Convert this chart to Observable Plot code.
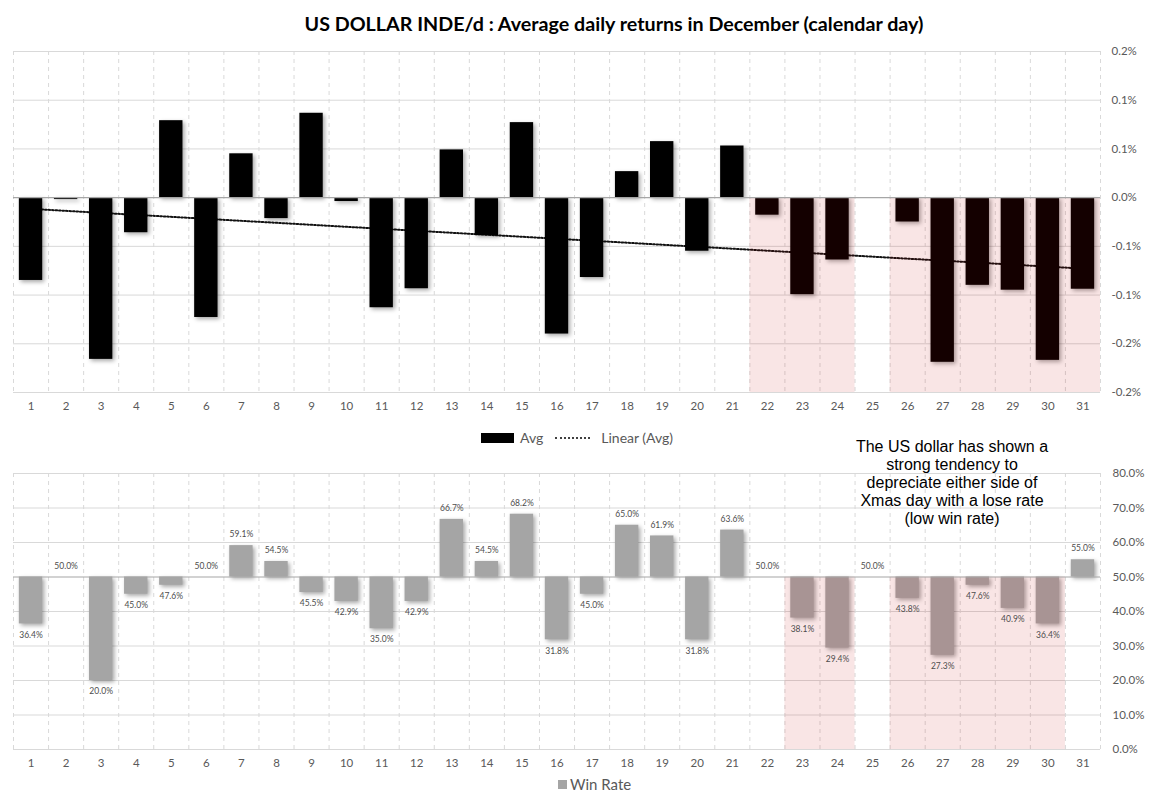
<!DOCTYPE html>
<html>
<head>
<meta charset="utf-8">
<script src="https://cdn.jsdelivr.net/npm/d3@7"></script>
<script src="https://cdn.jsdelivr.net/npm/@observablehq/plot@0.6"></script>
<style>
  body { margin: 0; background: #fff; }
  #wrap { position: relative; width: 1151px; height: 805px; overflow: hidden; font-family: Lato, "Open Sans", sans-serif; }
  #title { position: absolute; left: 0; top: 12px; width: 1228px; text-align: center; font: bold 19.7px Lato, sans-serif; color: #000; white-space: nowrap; }
  .chart { position: absolute; left: 0; }
  .legend { position: absolute; font: 14px Lato, sans-serif; color: #595959; display: flex; align-items: center; white-space: nowrap; }
  .sw { display: inline-block; }
  #note { position: absolute; left: 842px; top: 438px; width: 220px; text-align: center; font: 16px "Liberation Sans", Arial, sans-serif; line-height: 18px; color: #000; }
</style>
</head>
<body>
<div id="wrap">
  <div id="title"></div>
  <div id="top" class="chart" style="top:40px"></div>
  <div id="leg1" class="legend" style="left:481px; top:429px;"></div>
  <div id="bottom" class="chart" style="top:455px"></div>
  <div id="leg2" class="legend" style="left:558px; top:775px; font-size:15px;"></div>
  <div id="note"></div>
</div>
<script>
// ---------- data ----------
const titleText = "US DOLLAR INDE/d : Average daily returns in December (calendar day)";
const days = [1,2,3,4,5,6,7,8,9,10,11,12,13,14,15,16,17,18,19,20,21,22,23,24,25,26,27,28,29,30,31];
// average daily return, in percent
const avgReturn = [-0.085,-0.002,-0.166,-0.036,0.079,-0.123,0.045,-0.0215,0.0866,-0.004,
                   -0.113,-0.0935,0.049,-0.039,0.077,-0.140,-0.082,0.0267,0.0575,-0.055,
                   0.053,-0.018,-0.0996,-0.064,0,-0.025,-0.169,-0.090,-0.095,-0.167,-0.094];
// win rate, in percent
const winRate = [36.4,50.0,20.0,45.0,47.6,50.0,59.1,54.5,45.5,42.9,
                 35.0,42.9,66.7,54.5,68.2,31.8,45.0,65.0,61.9,31.8,
                 63.6,50.0,38.1,29.4,50.0,43.8,27.3,47.6,40.9,36.4,55.0];
const winBaseline = 50;
const avgTicks = [0.15,0.10,0.05,0,-0.05,-0.10,-0.15,-0.20];
const avgTickLabels = ["0.2%","0.1%","0.1%","0.0%","-0.1%","-0.1%","-0.2%","-0.2%"];
const winTicks = [0,10,20,30,40,50,60,70,80];
const winTickLabels = ["0.0%","10.0%","20.0%","30.0%","40.0%","50.0%","60.0%","70.0%","80.0%"];
const shadeTop = [[22,24],[26,31]];     // highlighted day spans, upper chart
const shadeBottom = [[23,24],[26,30]];  // highlighted day spans, lower chart
const legendTop = ["Avg","Linear (Avg)"];
const legendBottom = ["Win Rate"];
const noteText = ["The US dollar has shown a","strong tendency to","depreciate either side of","Xmas day with a lose rate","(low win rate)"];

// ---------- build ----------
const data = days.map((d,i) => ({day: d, avg: avgReturn[i], win: winRate[i]}));
const boundaries = [days[0]-0.5, ...days.map(d => d+0.5)];
const xDomain = [days[0]-0.5, days[days.length-1]+0.5];
const half = 1/3;   // bar half-width in day units (Excel gap width 50%)
const shadow = "drop-shadow(2px 2px 2px rgba(0,0,0,0.35))";
const grid = "#d9d9d9";
const baseStroke = "#a6a6a6";
const shadeFill = "#c00000";

document.getElementById("title").textContent = titleText;

const topLabel = new Map(avgTicks.map((t,i) => [t, avgTickLabels[i]]));
const yMin = d3.min(avgTicks), yMax = d3.max(avgTicks);

const topPlot = Plot.plot({
  width: 1151, height: 380,
  marginLeft: 13, marginRight: 51, marginTop: 11, marginBottom: 28,
  style: {fontFamily: "Lato, sans-serif", fontSize: "11.5px", color: "#595959", background: "transparent"},
  x: {type: "linear", domain: xDomain},
  y: {domain: [yMin, yMax]},
  marks: [
    Plot.ruleY(avgTicks.filter(t => t !== 0), {stroke: grid, strokeWidth: 1}),
    Plot.ruleX(boundaries, {stroke: grid, strokeDasharray: "4,4", strokeWidth: 1}),
    Plot.linearRegressionY(data, {x: "day", y: "avg", ci: 0, stroke: "#111", strokeWidth: 2, strokeDasharray: "1.6,1.9"}),
    Plot.rectY(data, {x1: d => d.day - half, x2: d => d.day + half, y1: 0, y2: "avg", fill: "#000", imageFilter: shadow}),
    Plot.rectY(shadeTop, {x1: d => d[0]-0.5, x2: d => d[1]+0.5, y1: 0, y2: yMin, fill: shadeFill, fillOpacity: 0.1}),
    Plot.ruleY([0], {stroke: baseStroke, strokeWidth: 1.2}),
    Plot.axisY({anchor: "right", ticks: avgTicks, tickFormat: t => topLabel.get(t), tickSize: 0, tickPadding: 11, label: null}),
    Plot.axisX({ticks: days, tickFormat: d => String(d), tickSize: 0, tickPadding: 9, label: null})
  ]
});
document.getElementById("top").appendChild(topPlot);

const winLabel = new Map(winTicks.map((t,i) => [t, winTickLabels[i]]));
const fmt = v => v.toFixed(1) + "%";

const bottomPlot = Plot.plot({
  width: 1151, height: 330,
  marginLeft: 13, marginRight: 51, marginTop: 18, marginBottom: 36,
  style: {fontFamily: "Lato, sans-serif", fontSize: "11.5px", color: "#595959", background: "transparent"},
  x: {type: "linear", domain: xDomain},
  y: {domain: [d3.min(winTicks), d3.max(winTicks)]},
  marks: [
    Plot.ruleY(winTicks.filter(t => t !== winBaseline), {stroke: grid, strokeWidth: 1}),
    Plot.ruleX(boundaries, {stroke: grid, strokeDasharray: "4,4", strokeWidth: 1}),
    Plot.rectY(data, {x1: d => d.day - half, x2: d => d.day + half, y1: winBaseline, y2: "win", fill: "#a5a5a5", imageFilter: shadow}),
    Plot.rectY(shadeBottom, {x1: d => d[0]-0.5, x2: d => d[1]+0.5, y1: winBaseline, y2: d3.min(winTicks), fill: shadeFill, fillOpacity: 0.1}),
    Plot.ruleY([winBaseline], {stroke: baseStroke, strokeWidth: 1.2}),
    Plot.text(data.filter(d => d.win >= winBaseline), {x: "day", y: "win", text: d => fmt(d.win), dy: -11, fontSize: 8.5, fill: "#4d4d4d"}),
    Plot.text(data.filter(d => d.win < winBaseline), {x: "day", y: "win", text: d => fmt(d.win), dy: 11, fontSize: 8.5, fill: "#4d4d4d"}),
    Plot.axisY({anchor: "right", ticks: winTicks, tickFormat: t => winLabel.get(t), tickSize: 0, tickPadding: 12, label: null}),
    Plot.axisX({ticks: days, tickFormat: d => String(d), tickSize: 0, tickPadding: 9, label: null})
  ]
});
document.getElementById("bottom").appendChild(bottomPlot);

// legends
const leg1 = document.getElementById("leg1");
leg1.innerHTML =
  `<span class="sw" style="width:33px;height:10px;background:#000;margin-right:6px"></span><span>${legendTop[0]}</span>` +
  `<span class="sw" style="width:35px;height:0;border-top:2px dotted #404040;margin:0 11px 0 12px"></span><span>${legendTop[1]}</span>`;
const leg2 = document.getElementById("leg2");
leg2.innerHTML = `<span class="sw" style="width:9px;height:9px;background:#a5a5a5;margin-right:3px"></span><span>${legendBottom[0]}</span>`;

document.getElementById("note").innerHTML = noteText.map(t => `<div>${t}</div>`).join("");
</script>
</body>
</html>
